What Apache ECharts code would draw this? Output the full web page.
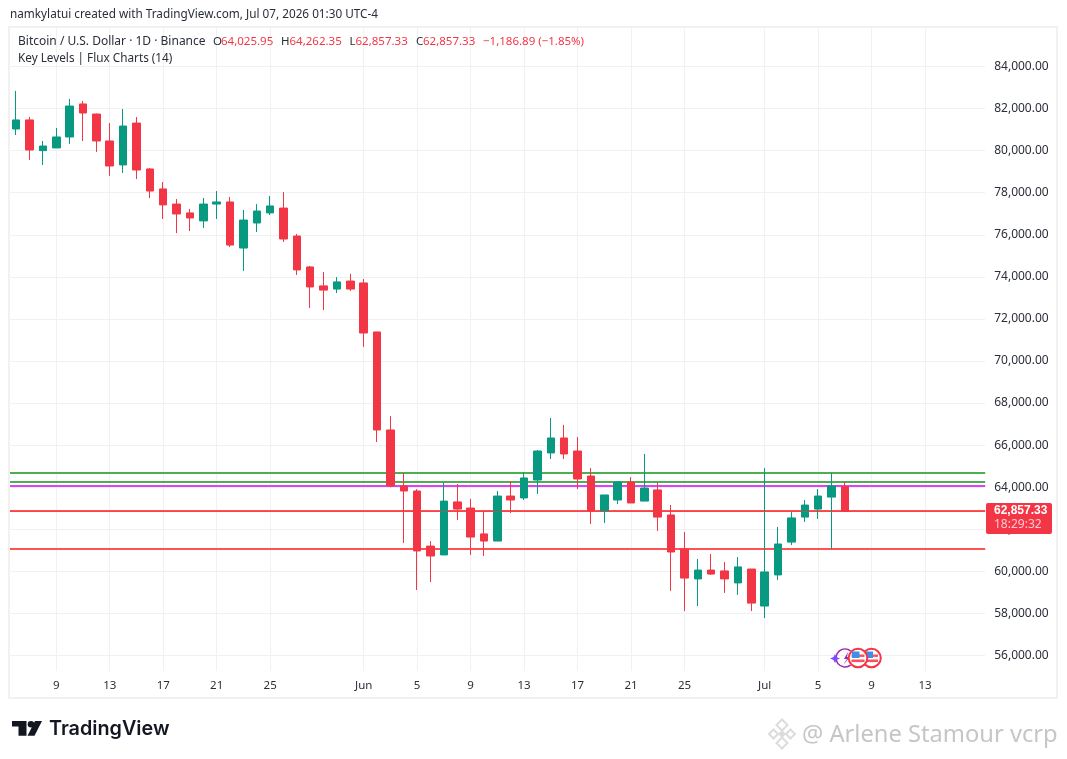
<!DOCTYPE html>
<html><head><meta charset="utf-8">
<style>html,body{margin:0;padding:0;background:#fff}#c{width:1067px;height:759px}</style>
<script src="https://cdn.jsdelivr.net/npm/echarts@6/dist/echarts.min.js"></script>
</head><body><div id="c"></div>
<script>
const categories = ['May 6','May 7','May 8','May 9','May 10','May 11','May 12','May 13','May 14','May 15','May 16','May 17','May 18','May 19','May 20','May 21','May 22','May 23','May 24','May 25','May 26','May 27','May 28','May 29','May 30','May 31','Jun 1','Jun 2','Jun 3','Jun 4','Jun 5','Jun 6','Jun 7','Jun 8','Jun 9','Jun 10','Jun 11','Jun 12','Jun 13','Jun 14','Jun 15','Jun 16','Jun 17','Jun 18','Jun 19','Jun 20','Jun 21','Jun 22','Jun 23','Jun 24','Jun 25','Jun 26','Jun 27','Jun 28','Jun 29','Jun 30','Jul 1','Jul 2','Jul 3','Jul 4','Jul 5','Jul 6','Jul 7','Jul 8','Jul 9','Jul 10','Jul 11','Jul 12','Jul 13','Jul 14','Jul 15','Jul 16','Jul 17'];
const opens = [81030,81460,80000,80130,80650,82220,81740,80460,79320,81310,79130,78180,77460,77040,76660,77460,77560,75370,76560,77040,77270,75940,74470,73570,73420,73800,73710,71380,66720,64060,63820,61200,60780,63300,63010,61780,61440,63580,63490,64340,65630,66340,65720,64530,62870,63390,64250,63340,63870,62680,61060,59640,60060,60020,59450,60110,58350,59830,61390,62580,62960,63530,64025.95];
const closes = [81460,80030,80220,80650,82120,81790,80460,79270,81170,79080,78080,77420,76990,76800,77460,77560,75510,76700,77130,77370,75800,74330,73520,73370,73760,73420,71330,66720,64060,63820,60970,60730,63340,62960,61630,61440,63580,63390,64440,65720,66340,65580,64390,62870,63630,64250,63250,63960,62580,60920,59680,60060,59870,59640,60210,58490,59970,61300,62540,63150,63580,64060,62857.33];
const lows = [80740,79555,79320,80130,80320,80460,79940,78800,78940,78650,77750,76750,76080,76180,76320,76750,75420,74280,76130,76940,75660,74090,72520,72420,73230,73330,70670,66150,64000,61350,59110,59490,60780,62440,60780,60730,61440,62770,63390,63680,65340,65340,63910,62250,62300,63200,63250,63340,61920,59070,58110,58350,59830,58970,58880,58110,57780,59590,61250,62350,62490,61060,62857.33];
const highs = [82840,81600,80460,81080,82460,82360,81760,81310,81980,81600,79170,78510,77700,77230,77750,78080,77800,77180,77460,77840,78030,76040,74520,74230,73990,74140,73900,71380,67380,64680,63910,61440,64200,64150,63440,62870,63820,64290,64720,65770,67290,66960,66390,64910,63630,64290,64480,65580,64200,63150,61870,60590,60820,60440,60680,60110,64910,62110,62820,63390,63910,64680,64262.35];
const xTickDates = ['May 9','May 13','May 17','May 21','May 25','Jun 1','Jun 5','Jun 9','Jun 13','Jun 17','Jun 21','Jun 25','Jul 1','Jul 5','Jul 9','Jul 13'];
const xTickLabels = ['9','13','17','21','25','Jun','5','9','13','17','21','25','Jul','5','9','13'];
const yTicks = [56000,58000,60000,62000,64000,66000,68000,70000,72000,74000,76000,78000,80000,82000,84000];
const greenLevels = [64690,64247];
const purpleLevels = [64057];
const redLevels = [62857.33,61062];
const lastClose = 62857.33;
const headerParts = ['O','64,025.95','H','64,262.35','L','62,857.33','C','62,857.33','\u22121,186.89 (\u22121.85%)'];

const FONT = '"Noto Sans", sans-serif';
const RED = '#f23645', GREEN = '#089981', GRID = '#f1f1f2';
const candles = categories.slice(0, opens.length).map((_, i) => [opens[i], closes[i], lows[i], highs[i]]);
const isTick = (i, v) => xTickDates.includes(v);
const lvl = (vals, color) => vals.map(v => ({yAxis: v, lineStyle: {color, width: 2, type: 'solid'}}));

function T(x, y, text, fill, size, extra) {
  return Object.assign({type: 'text', z: 50, silent: true, x, y,
    style: Object.assign({text, fill, font: size + 'px ' + FONT, textVerticalAlign: 'middle'}, extra && extra.style || {})},
    extra && extra.el || {});
}
const g = [];
// pane frame
g.push({type: 'rect', z: 40, silent: true, shape: {x: 9, y: 27, width: 1048, height: 671}, style: {fill: 'none', stroke: GRID, lineWidth: 2}});
// top caption
g.push(T(10, 14.5, 'namkylatui created with TradingView.com, Jul 07, 2026 01:30 UTC-4', '#2a2e39', 11.75));
// legend
g.push(T(18, 42, 'Bitcoin / U.S. Dollar \u00b7 1D \u00b7 Binance', '#2a2e39', 12));
const hx = [213, 221, 281, 289.5, 349.5, 355.5, 416, 423, 483];
headerParts.forEach((s, i) => g.push(T(hx[i], 42, s, (i % 2 === 0 && i < 8) ? '#2a2e39' : RED, 11.5)));
g.push(T(18, 59, 'Key Levels | Flux Charts (14)', '#2a2e39', 11.75));
// last price tag
g.push({type: 'rect', z: 60, silent: true, shape: {x: 986, y: 503, width: 66, height: 31, r: 2}, style: {fill: RED}});
g.push(Object.assign(T(994, 511, '62,857.33', '#ffffff', 12, {style: {fontWeight: 'bold'}}), {z: 61}));
g.push(Object.assign(T(994, 525, '18:29:32', '#ffc9cf', 12), {z: 61}));
// TradingView logo
g.push({type: 'polygon', z: 50, silent: true, shape: {points: [[12, 721], [26.5, 721], [26.5, 735.7], [18.5, 735.7], [18.5, 726.5], [12, 726.5]]}, style: {fill: '#131722'}});
g.push({type: 'circle', z: 50, silent: true, shape: {cx: 31, cy: 724.3, r: 3.3}, style: {fill: '#131722'}});
g.push({type: 'polygon', z: 50, silent: true, shape: {points: [[35, 721], [42, 721], [34.5, 735.7], [27.5, 735.7]]}, style: {fill: '#131722'}});
g.push({type: 'text', z: 50, silent: true, x: 49, y: 729, style: {text: 'TradingView', fill: '#131722', font: '600 19.8px Inter, ' + FONT, textVerticalAlign: 'middle'}});
// watermark
[[782, 725, 5.5], [773.5, 734, 4.5], [790.5, 734, 4.5], [782, 743, 5.5]].forEach(d => g.push({type: 'polygon', z: 50, silent: true,
  shape: {points: [[d[0], d[1] - d[2]], [d[0] + d[2], d[1]], [d[0], d[1] + d[2]], [d[0] - d[2], d[1]]]},
  style: {fill: 'none', stroke: '#dcdcdc', lineWidth: 2}}));
g.push({type: 'polygon', z: 50, silent: true, shape: {points: [[782, 730], [786, 734], [782, 738], [778, 734]]}, style: {fill: '#dcdcdc'}});
g.push({type: 'text', z: 50, silent: true, x: 802, y: 735, style: {text: '@ Arlene Stamour vcrp', fill: '#c6c6c6', font: '23.7px ' + FONT, textVerticalAlign: 'middle'}});
// event markers
g.push({type: 'arc', z: 45, silent: true, shape: {cx: 845, cy: 658, r: 9, startAngle: 0.9, endAngle: -0.9, clockwise: true}, style: {fill: 'none', stroke: '#9c27b0', lineWidth: 1.5}});
g.push({type: 'polygon', z: 46, silent: true, shape: {points: [[835, 654], [836.5, 657], [840, 658.5], [836.5, 660], [835, 663], [833.5, 660], [830, 658.5], [833.5, 657]]}, style: {fill: '#7c4dff'}});
g.push({type: 'polygon', z: 46, silent: true, shape: {points: [[848, 652], [844, 659], [847, 659], [843, 665], [850, 657], [847, 657]]}, style: {fill: '#9c27b0'}});
[871.5, 858].forEach((cx, k) => {
  const z = 47 + k * 3;
  g.push({type: 'circle', z, silent: true, shape: {cx, cy: 658, r: 9.3}, style: {fill: '#fff', stroke: '#f23645', lineWidth: 2}});
  g.push({type: 'rect', z: z + 1, silent: true, shape: {x: cx - 6.5, y: 654.5, width: 13, height: 2.4}, style: {fill: '#f7525f'}});
  g.push({type: 'rect', z: z + 1, silent: true, shape: {x: cx - 6.5, y: 659.5, width: 13, height: 2.6}, style: {fill: '#f7525f'}});
  g.push({type: 'rect', z: z + 1, silent: true, shape: {x: cx - 6, y: 651.5, width: 7.5, height: 6.5}, style: {fill: '#3f8fe8'}});
});

const chart = echarts.init(document.getElementById('c'), null, {renderer: 'canvas'});
chart.setOption({
  animation: false,
  backgroundColor: '#fff',
  textStyle: {fontFamily: FONT},
  graphic: g,
  grid: {left: 9.5, right: 81.8, top: 27, bottom: 88, containLabel: false},
  xAxis: {
    type: 'category', data: categories, boundaryGap: true,
    axisLine: {show: false}, axisTick: {show: false},
    axisLabel: {interval: isTick, margin: 9, color: '#2a2e39', fontSize: 11.5, fontFamily: FONT, hideOverlap: false,
      formatter: v => xTickLabels[xTickDates.indexOf(v)]},
    splitLine: {show: true, interval: isTick, alignWithLabel: true, lineStyle: {color: GRID, width: 1}}
  },
  yAxis: {
    type: 'value', position: 'right', min: 55262, max: 85878, scale: true,
    axisLine: {show: false},
    axisTick: {show: false, customValues: yTicks},
    axisLabel: {customValues: yTicks, margin: 9, color: '#2a2e39', fontSize: 12, fontFamily: FONT,
      formatter: v => v.toLocaleString('en-US', {minimumFractionDigits: 2})},
    splitLine: {show: true, lineStyle: {color: GRID, width: 1}}
  },
  series: [
    {type: 'line', data: [], z: 1, silent: true,
      markLine: {silent: true, z: 1, symbol: 'none', animation: false, label: {show: false},
        data: [...lvl(greenLevels, '#4caf50'), ...lvl(purpleLevels, '#e040fb'), ...lvl(redLevels, '#ff5252')]}},
    {type: 'candlestick', data: candles, z: 2, barWidth: 8, silent: true,
      itemStyle: {color: GREEN, color0: RED, borderColor: GREEN, borderColor0: RED, borderWidth: 1},
      markLine: {silent: true, z: 5, symbol: 'none', animation: false, label: {show: false},
        data: [{yAxis: lastClose, lineStyle: {color: RED, width: 1, type: 'dotted'}}]}}
  ]
});
</script></body></html>
